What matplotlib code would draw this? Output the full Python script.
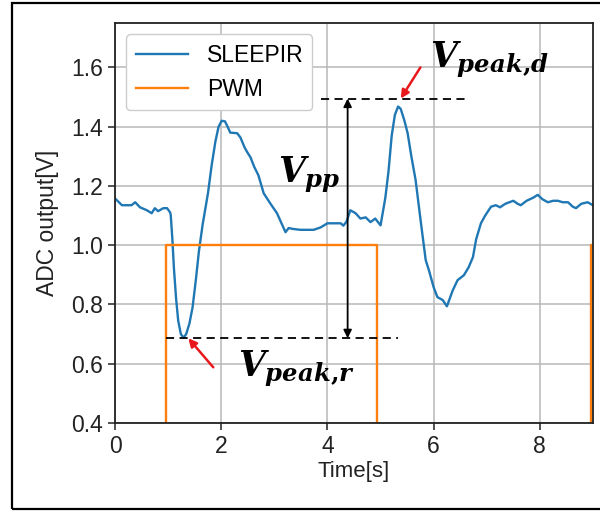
import numpy as np
import matplotlib.pyplot as plt
from matplotlib.patches import Rectangle

plt.rcParams.update({'font.family': 'Liberation Sans',
                     'font.size': 16.5,
                     'mathtext.fontset': 'custom',
                     'mathtext.it': 'DejaVu Serif:bold:italic',
                     'mathtext.rm': 'DejaVu Serif:bold',
                     'mathtext.bf': 'DejaVu Serif:bold'})

# sensor output (SLEEPIR) and PWM gate signal
t_sleepir = [0.0, 0.13, 0.31, 0.38, 0.47, 0.6, 0.69, 0.75, 0.81, 0.91, 0.98,
             1.04, 1.05, 1.08, 1.11, 1.15, 1.19, 1.24, 1.29, 1.34, 1.40, 1.46,
             1.52, 1.58, 1.65, 1.75, 1.82, 1.89, 1.95, 2.01, 2.07, 2.12, 2.17,
             2.3, 2.36, 2.44, 2.49, 2.55, 2.62, 2.7, 2.8, 2.92, 3.05, 3.12,
             3.21, 3.27, 3.35, 3.49, 3.74, 3.87, 4.0, 4.25, 4.3, 4.36, 4.43,
             4.53, 4.62, 4.72, 4.81, 4.9, 5.0, 5.09, 5.15, 5.21, 5.27, 5.33,
             5.38, 5.45, 5.51, 5.58, 5.66, 5.75, 5.85, 5.91, 6.0, 6.07, 6.17,
             6.25, 6.36, 6.45, 6.57, 6.66, 6.74, 6.8, 6.89, 6.97, 7.08, 7.17,
             7.25, 7.35, 7.5, 7.58, 7.64, 7.75, 7.87, 7.96, 8.05, 8.15, 8.25,
             8.34, 8.43, 8.53, 8.62, 8.68, 8.78, 8.9, 9.0]
v_sleepir = [1.158, 1.135, 1.135, 1.145, 1.128, 1.118, 1.108, 1.125, 1.115,
             1.125, 1.125, 1.11, 1.10, 1.02, 0.92, 0.82, 0.745, 0.70, 0.688,
             0.70, 0.735, 0.79, 0.88, 0.98, 1.07, 1.175, 1.27, 1.35, 1.40,
             1.42, 1.418, 1.40, 1.38, 1.378, 1.364, 1.33, 1.314, 1.297, 1.265,
             1.236, 1.175, 1.142, 1.108, 1.08, 1.044, 1.058, 1.055, 1.052,
             1.052, 1.06, 1.074, 1.074, 1.066, 1.08, 1.118, 1.108, 1.09,
             1.094, 1.078, 1.09, 1.067, 1.16, 1.25, 1.37, 1.44, 1.468, 1.46,
             1.42, 1.378, 1.30, 1.22, 1.09, 0.95, 0.916, 0.858, 0.825, 0.815,
             0.794, 0.848, 0.882, 0.899, 0.926, 0.96, 1.02, 1.074, 1.10, 1.13,
             1.135, 1.128, 1.14, 1.15, 1.14, 1.135, 1.15, 1.16, 1.17, 1.155,
             1.145, 1.15, 1.15, 1.145, 1.145, 1.13, 1.125, 1.14, 1.145, 1.135]
t_pwm = [0.0, 0.96, 0.96, 4.94, 4.94, 8.96, 8.96, 9.0]
v_pwm = [0.0, 0.0, 1.0, 1.0, 0.0, 0.0, 1.0, 1.0]

# annotation levels
v_peak_d = 1.495
v_peak_r = 0.686
t_vpp = 4.38

fig = plt.figure(figsize=(6, 5.12), dpi=100)
ax = fig.add_axes([0.1917, 0.1738, 0.7966, 0.7813])

ax.plot(t_sleepir, v_sleepir, color='#1f77b4', lw=1.7, label='SLEEPIR')
ax.plot(t_pwm, v_pwm, color='#ff7f0e', lw=1.7, label='PWM')

ax.set_xlim(0, 9)
ax.set_ylim(0.4, 1.75)
ax.set_xticks([0, 2, 4, 6, 8])
ax.set_yticks([0.4, 0.6, 0.8, 1.0, 1.2, 1.4, 1.6])
ax.grid(True, color='#b8b8b8', lw=1.1)
ax.set_axisbelow(True)
ax.tick_params(length=5, width=1.1, colors='#222222', labelsize=16.5)
for sp in ax.spines.values():
    sp.set_linewidth(1.3)
    sp.set_color('#222222')
ax.set_xlabel('Time[s]', fontsize=16, color='#222222', labelpad=2)
ax.set_ylabel('ADC output[V]', fontsize=16.5, color='#222222', labelpad=9)

ax.legend(loc='upper left', fontsize=16.5, handlelength=2.3,
          edgecolor='#cccccc', framealpha=1)

# dashed peak levels and peak-to-peak arrow
ax.plot([3.87, 6.64], [v_peak_d, v_peak_d], color='black', lw=1.3,
        dashes=(4.5, 3))
ax.plot([0.96, 5.32], [v_peak_r, v_peak_r], color='black', lw=1.3,
        dashes=(4.5, 3))
ax.annotate('', xy=(t_vpp, v_peak_r), xytext=(t_vpp, v_peak_d),
            arrowprops=dict(arrowstyle='<|-|>', color='black', lw=1.3,
                            mutation_scale=12, shrinkA=0, shrinkB=0))

ax.annotate('', xy=(5.38, v_peak_d), xytext=(5.75, 1.6),
            arrowprops=dict(arrowstyle='-|>', color='#e8191c', lw=1.8,
                            mutation_scale=12, shrinkA=0, shrinkB=0))
ax.annotate('', xy=(1.38, v_peak_r), xytext=(1.85, 0.588),
            arrowprops=dict(arrowstyle='-|>', color='#e8191c', lw=1.8,
                            mutation_scale=12, shrinkA=0, shrinkB=0))

ax.text(3.06, 1.24, r'$V_{pp}$', fontsize=25, va='center')
ax.text(5.94, 1.625, r'$V_{peak{,}d}$', fontsize=25, va='center')
ax.text(2.32, 0.585, r'$V_{peak{,}r}$', fontsize=25, va='center')

# outer frame
fig.patches.append(Rectangle((12 / 600, 3 / 512), 1.0, 506 / 512,
                             transform=fig.transFigure, fill=False,
                             edgecolor='black', lw=1.6))

fig.savefig('out.png', dpi=100)
